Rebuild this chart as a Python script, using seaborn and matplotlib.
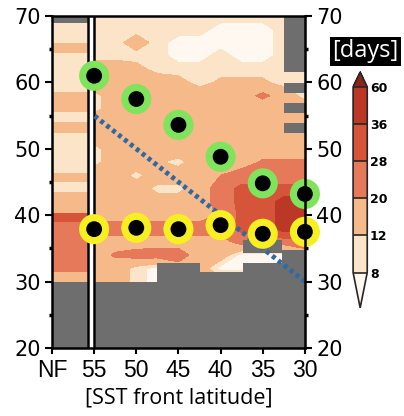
import matplotlib
matplotlib.use("Agg")
import matplotlib.pyplot as plt
import numpy as np
import seaborn as sns
from matplotlib.colors import from_levels_and_colors

# SST front latitude of each experiment (NF = no front, drawn at 60)
front_lat = [55, 50, 45, 40, 35, 30]
green_lat = [61.0, 57.5, 53.6, 48.8, 44.8, 43.2]
yellow_lat = [37.9, 38.1, 37.9, 38.5, 37.2, 37.5]
diag_x = [55, 30]
diag_y = [55, 30]

levels = [8, 12, 20, 28, 36, 60]
level_colors = ['#fff8f0', '#fce4c9', '#f5b98a', '#e6795a', '#d6553a', '#bb3826', '#8e2418']

# blocking days field, rows from 70N down to 30N every 2 deg
grid_x = [55, 52.5, 50, 47.5, 45, 42.5, 40, 37.5, 35, 32.5, 30]
grid_y = [70, 68, 66, 64, 62, 60, 58, 56, 54, 52, 50, 48, 46, 44, 42, 40, 38, 36, 34, 32, 30]
days = [
    [10, 10, 10, 10, 10, 10, 10, 10, 10, 10, 10],
    [10, 10, 10, 10, 10, 10, 6, 6, 6, 10, 10],
    [10, 10, 15, 10, 6, 6, 6, 6, 6, 10, 10],
    [10, 10, 10, 10, 6, 6, 10, 6, 6, 10, 10],
    [16, 16, 14, 10, 10, 10, 10, 10, 10, 10, 10],
    [16, 16, 16, 16, 14, 10, 13, 13, 13, 10, 10],
    [10, 16, 16, 16, 16, 16, 14, 16, 22, 16, 10],
    [10, 16, 16, 16, 16, 16, 16, 16, 14, 16, 16],
    [16, 16, 16, 16, 16, 16, 16, 16, 16, 16, 16],
    [16, 16, 16, 16, 16, 16, 16, 16, 16, 16, 16],
    [10, 16, 16, 16, 16, 16, 16, 16, 16, 16, 16],
    [10, 16, 16, 13, 10, 16, 16, 16, 21, 21, 21],
    [16, 16, 10, 16, 16, 16, 20, 24, 24, 24, 24],
    [16, 16, 16, 10, 10, 16, 24, 30, 30, 30, 30],
    [16, 16, 16, 16, 16, 16, 24, 30, 30, 40, 40],
    [16, 16, 16, 16, 16, 16, 21, 30, 30, 40, 40],
    [24, 24, 24, 24, 24, 24, 24, 30, 30, 40, 40],
    [16, 16, 16, 16, 16, 16, 16, 24, 24, 24, 24],
    [16, 21, 23, 24, 24, 16, 16, 6, 6, 6, 16],
    [16, 16, 10, 6, 16, 16, 6, 6, 6, 6, 16],
    [16, 16, 10, 6, 16, 16, 16, 16, 16, 16, 16],
]

# NF column: band edges (lat) and days in each band
nf_edges = [30, 31.4, 39, 40.3, 43.5, 45, 46.4, 52.4, 54, 55.5, 58.5, 64.4, 65.9, 68.9]
nf_days = [16, 24, 32, 16, 10, 16, 10, 16, 10, 16, 10, 16, 10]

# missing data (x0, x1, lat0, lat1)
gray_blocks = [
    (30, 55, 20, 30), (42.4, 47.5, 30, 32.8), (37.3, 42.4, 30, 31.4),
    (32.7, 37.3, 30, 32.8), (32.7, 37.3, 34.3, 36.3), (30, 32.7, 30, 34.8),
    (30, 32.5, 61.6, 70), (30, 32.5, 58.4, 59.9), (30, 32.5, 55.4, 56.9),
    (30, 32.5, 52.4, 53.9), (55.7, 60, 20, 30), (55.7, 60, 68.9, 70),
]

sns.set_style("ticks")
plt.rcParams['font.family'] = ['DejaVu Sans']
plt.rcParams['text.color'] = 'black'
plt.rcParams['xtick.color'] = 'black'
plt.rcParams['ytick.color'] = 'black'
plt.rcParams['axes.labelcolor'] = 'black'

cmap, norm = from_levels_and_colors(levels, level_colors, extend='both')

fig = plt.figure(figsize=(4.04, 4.16), dpi=100)
ax = fig.add_axes([0.1287, 0.1635, 0.626, 0.798])

cf = ax.contourf(grid_x, grid_y, np.array(days, dtype=float), levels=levels,
                 cmap=cmap, norm=norm, extend='both')
ax.pcolormesh([60, 55.7], nf_edges, np.array(nf_days, dtype=float)[:, None],
              cmap=cmap, norm=norm)

for x0, x1, y0, y1 in gray_blocks:
    ax.bar(x0, y1 - y0, width=x1 - x0, bottom=y0, align='edge',
           color='#6e6e6e', linewidth=0, zorder=2)

ax.axvspan(55.0, 55.7, color='white', zorder=3)
ax.axvline(55.7, color='black', lw=1.8, zorder=3)
ax.axvline(55.0, color='black', lw=1.8, zorder=3)

sns.lineplot(x=diag_x, y=diag_y, ax=ax, color='#2d69a6', lw=3.5,
             linestyle=(0, (0.8, 0.75)), zorder=4)

sns.scatterplot(x=front_lat, y=green_lat, ax=ax, s=470, color='#80e35c',
                edgecolor='none', zorder=5, clip_on=False)
sns.scatterplot(x=front_lat, y=yellow_lat, ax=ax, s=470, color='#f7ef22',
                edgecolor='none', zorder=5, clip_on=False)
sns.scatterplot(x=front_lat + front_lat, y=green_lat + yellow_lat, ax=ax, s=130,
                color='black', edgecolor='none', zorder=6, clip_on=False)

ax.set_xlim(60, 30)
ax.set_ylim(20, 70)
ax.set_xticks([60, 55, 50, 45, 40, 35, 30], ['NF', '55', '50', '45', '40', '35', '30'],
              family='Liberation Sans', fontsize=16.5)
ax.set_yticks([20, 30, 40, 50, 60, 70])
ax.set_yticks([25, 35, 45, 55, 65], minor=True)
ax.tick_params(axis='y', which='both', left=True, right=True,
               labelleft=True, labelright=True, labelsize=15, direction='out')
ax.tick_params(axis='y', which='major', length=5, width=1.5, pad=3)
ax.tick_params(axis='y', which='minor', length=2.5, width=2.5)
ax.tick_params(axis='x', which='major', length=4, width=1.5, pad=4)
ax.set_xlabel('[SST front latitude]', family='Open Sans', fontsize=15.5, labelpad=4)
ax.set_ylabel('')
for sp in ax.spines.values():
    sp.set_linewidth(1.8)
    sp.set_color('black')
    sp.set_zorder(7)

cax = fig.add_axes([0.874, 0.26, 0.035, 0.567])
cb = fig.colorbar(cf, cax=cax, extendfrac=[0.19, 0.08], drawedges=True)
cb.set_ticks(levels)
cb.ax.tick_params(length=0, pad=2)
for t in cb.ax.get_yticklabels():
    t.set_fontsize(9)
    t.set_fontweight('bold')
cb.outline.set_linewidth(1.2)
cb.dividers.set_linewidth(1.2)

fig.text(0.905, 0.877, '[days]', color='white', fontsize=17, family='Open Sans',
         ha='center', va='center',
         bbox=dict(facecolor='black', edgecolor='none', boxstyle='square,pad=0.1'))

fig.savefig('out.png', dpi=100)
